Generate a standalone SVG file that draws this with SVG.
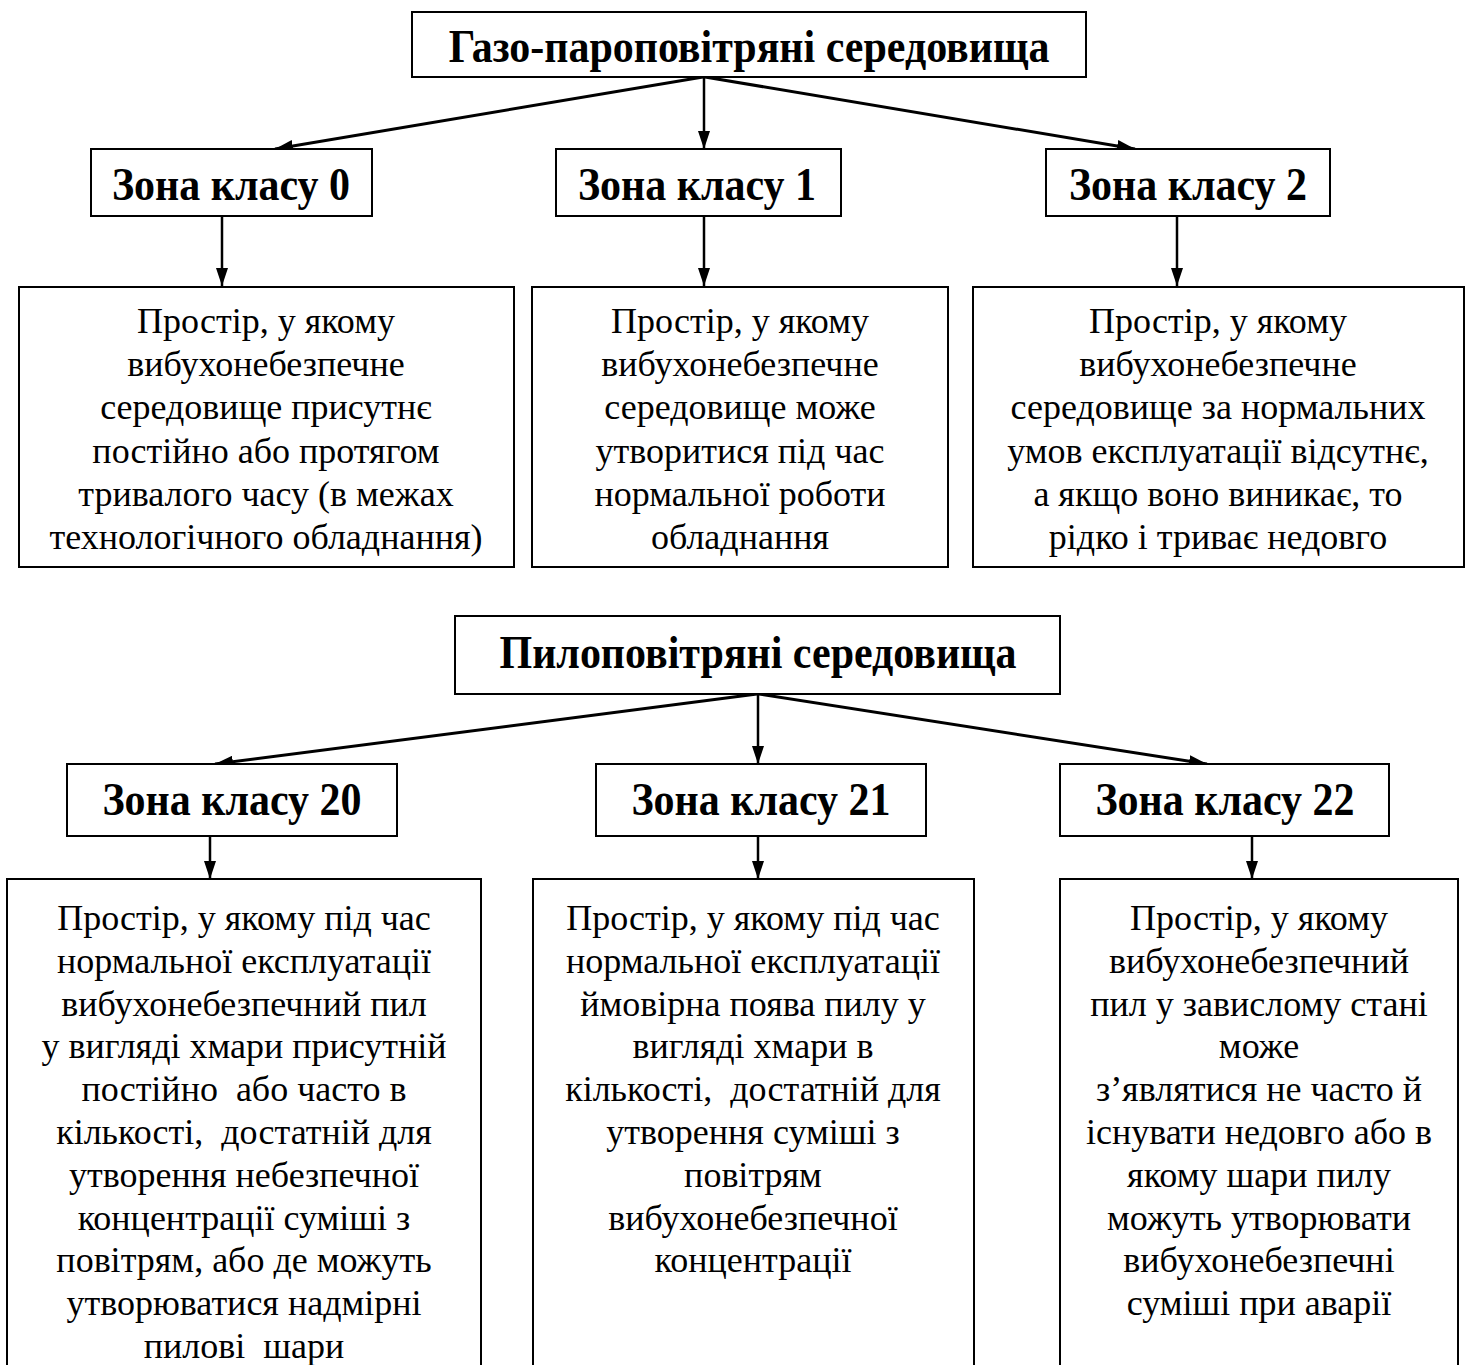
<svg xmlns="http://www.w3.org/2000/svg" width="1467" height="1365" viewBox="0 0 1467 1365">
<style>
.box{fill:#fff;stroke:#000;stroke-width:2}
.h{font-family:"Liberation Serif","Times New Roman",serif;font-weight:bold;font-size:42px;text-anchor:middle;fill:#000}
.t{font-family:"Liberation Serif","Times New Roman",serif;font-size:36px;text-anchor:middle;fill:#000}
.c{stroke:#000;stroke-width:2.5;fill:none}
.s{stroke:#000;stroke-width:3;fill:none}
</style>
<defs>
<marker id="ah" markerWidth="18" markerHeight="12" refX="18" refY="6" orient="auto" markerUnits="userSpaceOnUse"><path d="M0,0 L18,6 L0,12 z" fill="#000"/></marker>
</defs>
<rect width="1467" height="1365" fill="#fff"/>
<g id="connectors">
<line class="s" x1="703" y1="77" x2="275" y2="149" marker-end="url(#ah)"/>
<line class="c" x1="704" y1="77" x2="704" y2="149" marker-end="url(#ah)"/>
<line class="s" x1="705" y1="77" x2="1135" y2="149" marker-end="url(#ah)"/>
<line class="c" x1="222" y1="216" x2="222" y2="286" marker-end="url(#ah)"/>
<line class="c" x1="704" y1="216" x2="704" y2="286" marker-end="url(#ah)"/>
<line class="c" x1="1177" y1="216" x2="1177" y2="286" marker-end="url(#ah)"/>
<line class="s" x1="757" y1="694" x2="215" y2="764" marker-end="url(#ah)"/>
<line class="c" x1="758" y1="694" x2="758" y2="764" marker-end="url(#ah)"/>
<line class="s" x1="759" y1="694" x2="1207" y2="764" marker-end="url(#ah)"/>
<line class="c" x1="210" y1="836" x2="210" y2="879" marker-end="url(#ah)"/>
<line class="c" x1="758" y1="836" x2="758" y2="879" marker-end="url(#ah)"/>
<line class="c" x1="1252" y1="836" x2="1252" y2="879" marker-end="url(#ah)"/>
</g>
<g id="gas">
<rect class="box" x="412" y="12" width="674" height="65"/>
<text class="h" transform="translate(749,62) scale(1,1.1)">Газо-пароповітряні середовища</text>
</g>
<g id="zone0">
<rect class="box" x="91" y="149" width="281" height="67"/>
<text class="h" transform="translate(231,200) scale(1,1.1)">Зона класу 0</text>
</g>
<g id="zone1">
<rect class="box" x="556" y="149" width="285" height="67"/>
<text class="h" transform="translate(697,200) scale(1,1.1)">Зона класу 1</text>
</g>
<g id="zone2">
<rect class="box" x="1046" y="149" width="284" height="67"/>
<text class="h" transform="translate(1188,200) scale(1,1.1)">Зона класу 2</text>
</g>
<g id="desc0">
<rect class="box" x="19" y="287" width="495" height="280"/>
<text class="t" x="266" y="333">Простір, у якому</text>
<text class="t" x="266" y="376">вибухонебезпечне</text>
<text class="t" x="266" y="419">середовище присутнє</text>
<text class="t" x="266" y="463">постійно або протягом</text>
<text class="t" x="266" y="506">тривалого часу (в межах</text>
<text class="t" x="266" y="549">технологічного обладнання)</text>
</g>
<g id="desc1">
<rect class="box" x="532" y="287" width="416" height="280"/>
<text class="t" x="740" y="333">Простір, у якому</text>
<text class="t" x="740" y="376">вибухонебезпечне</text>
<text class="t" x="740" y="419">середовище може</text>
<text class="t" x="740" y="463">утворитися під час</text>
<text class="t" x="740" y="506">нормальної роботи</text>
<text class="t" x="740" y="549">обладнання</text>
</g>
<g id="desc2">
<rect class="box" x="973" y="287" width="491" height="280"/>
<text class="t" x="1218" y="333">Простір, у якому</text>
<text class="t" x="1218" y="376">вибухонебезпечне</text>
<text class="t" x="1218" y="419">середовище за нормальних</text>
<text class="t" x="1218" y="463">умов експлуатації відсутнє,</text>
<text class="t" x="1218" y="506">а якщо воно виникає, то</text>
<text class="t" x="1218" y="549">рідко і триває недовго</text>
</g>
<g id="dust">
<rect class="box" x="455" y="616" width="605" height="78"/>
<text class="h" transform="translate(758,668) scale(1,1.1)">Пилоповітряні середовища</text>
</g>
<g id="zone20">
<rect class="box" x="67" y="764" width="330" height="72"/>
<text class="h" transform="translate(232,815) scale(1,1.1)">Зона класу 20</text>
</g>
<g id="zone21">
<rect class="box" x="596" y="764" width="330" height="72"/>
<text class="h" transform="translate(761,815) scale(1,1.1)">Зона класу 21</text>
</g>
<g id="zone22">
<rect class="box" x="1060" y="764" width="329" height="72"/>
<text class="h" transform="translate(1225,815) scale(1,1.1)">Зона класу 22</text>
</g>
<g id="desc20">
<rect class="box" x="7" y="879" width="474" height="500"/>
<text class="t" x="244" y="930">Простір, у якому під час</text>
<text class="t" x="244" y="973">нормальної експлуатації</text>
<text class="t" x="244" y="1016">вибухонебезпечний пил</text>
<text class="t" x="244" y="1058">у вигляді хмари присутній</text>
<text class="t" x="244" y="1101" xml:space="preserve">постійно  або часто в</text>
<text class="t" x="244" y="1144" xml:space="preserve">кількості,  достатній для</text>
<text class="t" x="244" y="1187">утворення небезпечної</text>
<text class="t" x="244" y="1230">концентрації суміші з</text>
<text class="t" x="244" y="1272">повітрям, або де можуть</text>
<text class="t" x="244" y="1315">утворюватися надмірні</text>
<text class="t" x="244" y="1358" xml:space="preserve">пилові  шари</text>
</g>
<g id="desc21">
<rect class="box" x="533" y="879" width="441" height="500"/>
<text class="t" x="753" y="930">Простір, у якому під час</text>
<text class="t" x="753" y="973">нормальної експлуатації</text>
<text class="t" x="753" y="1016">ймовірна поява пилу у</text>
<text class="t" x="753" y="1058">вигляді хмари в</text>
<text class="t" x="753" y="1101" xml:space="preserve">кількості,  достатній для</text>
<text class="t" x="753" y="1144">утворення суміші з</text>
<text class="t" x="753" y="1187">повітрям</text>
<text class="t" x="753" y="1230">вибухонебезпечної</text>
<text class="t" x="753" y="1272">концентрації</text>
</g>
<g id="desc22">
<rect class="box" x="1060" y="879" width="398" height="500"/>
<text class="t" x="1259" y="930">Простір, у якому</text>
<text class="t" x="1259" y="973">вибухонебезпечний</text>
<text class="t" x="1259" y="1016">пил у завислому стані</text>
<text class="t" x="1259" y="1058">може</text>
<text class="t" x="1259" y="1101">з’являтися не часто й</text>
<text class="t" x="1259" y="1144">існувати недовго або в</text>
<text class="t" x="1259" y="1187">якому шари пилу</text>
<text class="t" x="1259" y="1230">можуть утворювати</text>
<text class="t" x="1259" y="1272">вибухонебезпечні</text>
<text class="t" x="1259" y="1315">суміші при аварії</text>
</g>
</svg>
